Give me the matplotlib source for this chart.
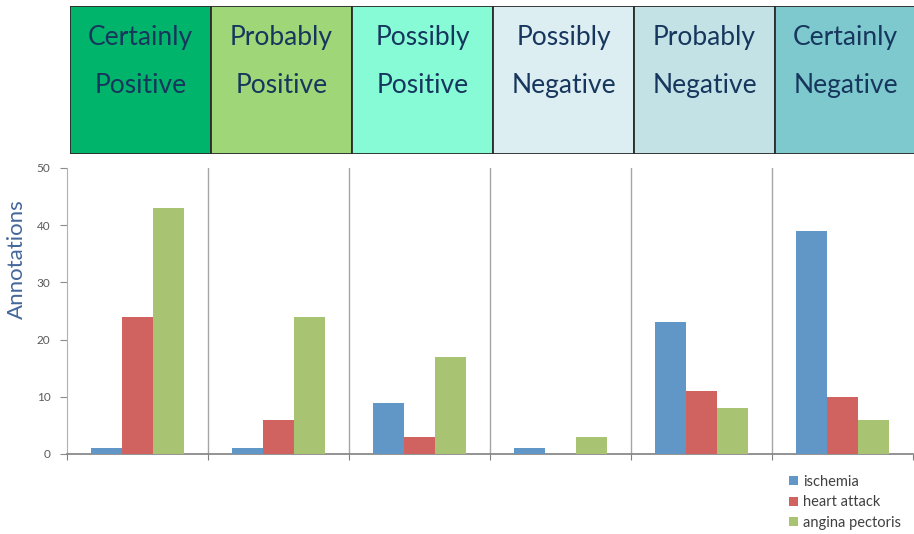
import matplotlib
matplotlib.use("Agg")
import matplotlib.pyplot as plt
import numpy as np

categories = ["Certainly\nPositive", "Probably\nPositive", "Possibly\nPositive",
              "Possibly\nNegative", "Probably\nNegative", "Certainly\nNegative"]
header_colors = ["#00B46C", "#9FD677", "#86FBD5", "#DCEEF1", "#C2E2E5", "#7DC9CD"]
series_names = ["ischemia", "heart attack", "angina pectoris"]
series_colors = ["#6097C7", "#D0635F", "#A8C473"]
ischemia = [1, 1, 9, 1, 23, 39]
heart_attack = [24, 6, 3, 0, 11, 10]
angina_pectoris = [43, 24, 17, 3, 8, 6]
yticks = [0, 10, 20, 30, 40, 50]

plt.rcParams['font.family'] = ['Lato', 'DejaVu Sans']

W, H = 914, 534
fig = plt.figure(figsize=(W / 100, H / 100), dpi=100)

# header boxes
axh = fig.add_axes([70 / W, 1 - 154 / H, 846 / W, 148 / H])
xh = np.arange(len(categories))
axh.bar(xh, [1] * len(categories), width=1.0, align='edge', color=header_colors,
        edgecolor="#2b2b2b", linewidth=1.3)
for i, c in enumerate(categories):
    l1, l2 = c.split("\n")
    axh.text(i + 0.5, 0.785, l1, ha='center', va='center', fontsize=19, color="#17365D")
    axh.text(i + 0.5, 0.465, l2, ha='center', va='center', fontsize=19, color="#17365D")
axh.set_xlim(0, len(categories))
axh.set_ylim(0, 1)
axh.axis('off')

# main chart
ax = fig.add_axes([67 / W, 1 - 454 / H, 846 / W, 286 / H])
n = len(categories)
x = np.arange(n) + 0.5
bw = 0.22
data = [ischemia, heart_attack, angina_pectoris]
for k, (vals, col, name) in enumerate(zip(data, series_colors, series_names)):
    ax.bar(x + (k - 1) * bw, vals, width=bw, color=col, label=name,
           edgecolor='none', zorder=3)
for s in range(1, n):
    ax.axvline(s, color="#A6A6A6", linewidth=1.0, zorder=1)
ax.set_xlim(0, n)
ax.set_ylim(0, 50)
ax.set_yticks(yticks)
ax.set_xticks(np.arange(0, n + 1))
ax.set_xticklabels([])
for sp in ["top", "right"]:
    ax.spines[sp].set_visible(False)
ax.spines["left"].set_color("#B0B0B0")
ax.spines["bottom"].set_color("#808080")
ax.spines["bottom"].set_linewidth(1.2)
ax.tick_params(axis='y', colors="#8C8C8C", labelcolor="#595959", labelsize=8.5,
               length=5, direction='out', pad=7)
ax.tick_params(axis='x', colors="#808080", length=4, direction='out')
ax.set_ylabel("Annotations", fontsize=16, color="#44679A")
ax.yaxis.set_label_coords(-0.047, 0.68)

fig.legend(loc='upper left', bbox_to_anchor=(783 / W, 1 - 469 / H), frameon=False,
           fontsize=10.5, handlelength=0.6, handleheight=0.6, handletextpad=0.35,
           labelspacing=0.45, labelcolor="#404040", borderaxespad=0)

fig.savefig("out.png", dpi=100)
